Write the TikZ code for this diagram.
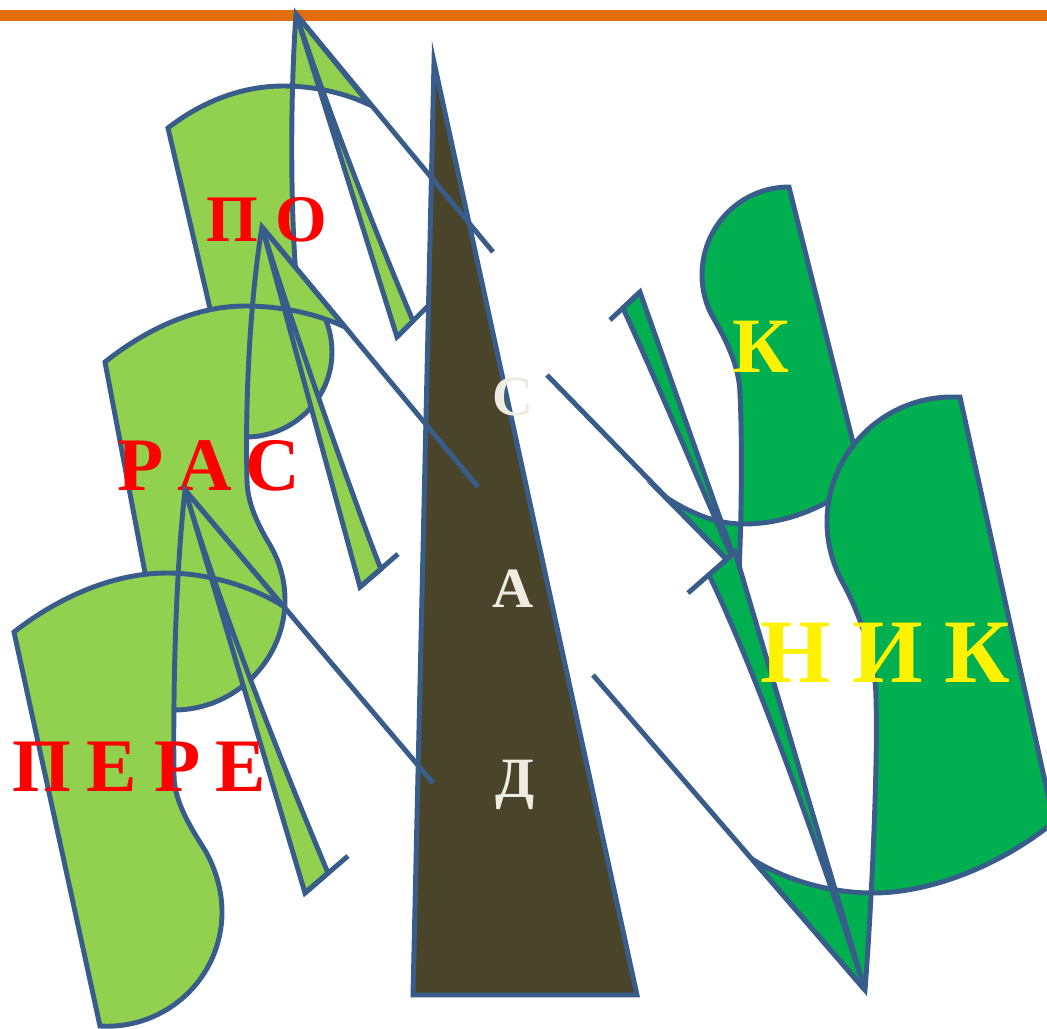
\documentclass[tikz,border=0pt]{standalone}
\usepackage{fontspec}
\setmainfont{Liberation Serif}
\definecolor{outl}{HTML}{385D8A}
\definecolor{lgreen}{HTML}{92D050}
\definecolor{dgreen}{HTML}{00B050}
\definecolor{trunkc}{HTML}{4A452A}
\definecolor{barc}{HTML}{E46C0A}
\definecolor{cream}{HTML}{EEECE1}
\begin{document}
\begin{tikzpicture}[x=0.01cm,y=-0.01cm,line width=1.4pt,line join=miter,
  ol/.style={draw=outl},
  lgleaf/.style={fill=lgreen,draw=outl},
  dgleaf/.style={fill=dgreen,draw=outl},
  trunkst/.style={fill=trunkc,draw=outl},
  lbl/.style={anchor=base,inner sep=0pt,outer sep=0pt},
  redS/.style={lbl,text=red,font=\bfseries\fontsize{18.9}{20}\selectfont},
  redL/.style={lbl,text=red,font=\bfseries\fontsize{21.5}{23}\selectfont},
  creamT/.style={lbl,text=cream,font=\bfseries\fontsize{16.2}{18}\selectfont},
  yelS/.style={lbl,text=yellow,font=\bfseries\fontsize{22.3}{24}\selectfont},
  yelL/.style={lbl,text=yellow,font=\bfseries\fontsize{25.8}{28}\selectfont}]
\useasboundingbox (0,0) rectangle (1047,1029);
\clip (0,0) rectangle (1047,1029);
% top bar
\fill[barc] (0,10) rectangle (1047,21);
% trunk
\draw[trunkst] (434,62) -- (413,995) -- (637,995) -- cycle;

% ---- leaf PO ----
\path[lgleaf] (168,128) -- (222,360) -- (246,437)
  .. controls (293,437) and (332,399) .. (332,352)
  .. controls (332,337) and (328,322) .. (321,310)
  .. controls (313,297) and (296,285) .. (295,262)
  .. controls (291,200) and (290,100) .. (296,14)
  -- (370,105)
  .. controls (345,93) and (315,86) .. (283,86)
  .. controls (240,86) and (200,103) .. (168,128) -- cycle;
\path[lgleaf] (296,14) -- (397,337) -- (413,321)
  .. controls (400,290) and (345,160) .. (296,14) -- cycle;
\draw[ol] (397,337) -- (428,306);
\draw[ol] (296,14) -- (493,252);
\node[redS] (po1) at (232,241) {П};
\node[redS] (po2) at (301,241) {О};

% ---- leaf RAS ----
\path[lgleaf] (105,362) -- (154,620) -- (174,710)
  .. controls (235,710) and (285,660) .. (285,600)
  .. controls (285,581) and (280,562) .. (270,545)
  .. controls (261,530) and (247,505) .. (247,480)
  .. controls (245,400) and (250,300) .. (262,227)
  -- (345,327)
  .. controls (315,313) and (280,306) .. (245,306)
  .. controls (195,306) and (145,330) .. (105,362) -- cycle;
\path[lgleaf] (262,227) -- (360,587) -- (381,569)
  .. controls (365,530) and (300,350) .. (262,227) -- cycle;
\draw[ol] (360,587) -- (398,554);
\draw[ol] (262,227) -- (478,487);
\node[redL] (ras1) at (141,490) {Р};
\node[redL] (ras2) at (205,490) {А};
\node[redL] (ras3) at (273,490) {С};

% ---- leaf PERE ----
\path[lgleaf] (14,632) -- (100,1026)
  .. controls (166,1030) and (222,978) .. (222,912)
  .. controls (222,891) and (216,870) .. (206,852)
  .. controls (196,835) and (174,805) .. (174,775)
  .. controls (173,700) and (175,580) .. (185,490)
  -- (283,606)
  .. controls (250,585) and (205,573) .. (167,573)
  .. controls (110,573) and (55,600) .. (14,632) -- cycle;
\path[lgleaf] (185,490) -- (305,893) -- (328,873)
  .. controls (310,830) and (230,640) .. (185,490) -- cycle;
\draw[ol] (305,893) -- (348,856);
\draw[ol] (185,490) -- (433,783);
\node[redL] (pe1) at (42,791) {П};
\node[redL] (pe2) at (112,791) {Е};
\node[redL] (pe3) at (178,791) {Р};
\node[redL] (pe4) at (241,791) {Е};

% trunk letters
\node[creamT] (s1) at (513,415) {С};
\node[creamT] (s2) at (513,607) {А};
\node[creamT] (s3) at (515,797) {Д};

% ---- leaf K ----
\path[dgleaf] (789,187) -- (862,478)
  .. controls (830,505) and (790,524) .. (743,524)
  .. controls (715,524) and (688,512) .. (664,496)
  -- (739,572)
  .. controls (742,510) and (742,430) .. (740,395)
  .. controls (740,365) and (723,335) .. (714,319)
  .. controls (706,306) and (702,290) .. (702,275)
  .. controls (702,226) and (741,187) .. (789,187) -- cycle;
\path[dgleaf] (640,292) -- (739,572)
  .. controls (715,520) and (665,400) .. (623,308) -- cycle;
\draw[ol] (640,292) -- (610,320);
\draw[ol] (547,375) -- (739,572);
\node[yelS] (k1) at (761,372) {К};

% ---- leaf NIK ----
\path[dgleaf] (960,397) -- (1054,822)
  .. controls (1000,866) and (930,893) .. (873,893)
  .. controls (830,893) and (785,880) .. (752,859)
  -- (865,990)
  .. controls (872,900) and (878,760) .. (876,700)
  .. controls (876,655) and (856,607) .. (844,585)
  .. controls (833,566) and (827,544) .. (827,522)
  .. controls (827,453) and (883,397) .. (952,397) -- cycle;
\path[dgleaf] (735,552) -- (865,990)
  .. controls (830,880) and (760,680) .. (709,575) -- cycle;
\draw[ol] (735,552) -- (688,593);
\draw[ol] (593,675) -- (865,990);
\node[yelL] (n1) at (796,682) {Н};
\node[yelL] (n2) at (888,682) {И};
\node[yelL] (n3) at (977,682) {К};
\end{tikzpicture}
\end{document}
